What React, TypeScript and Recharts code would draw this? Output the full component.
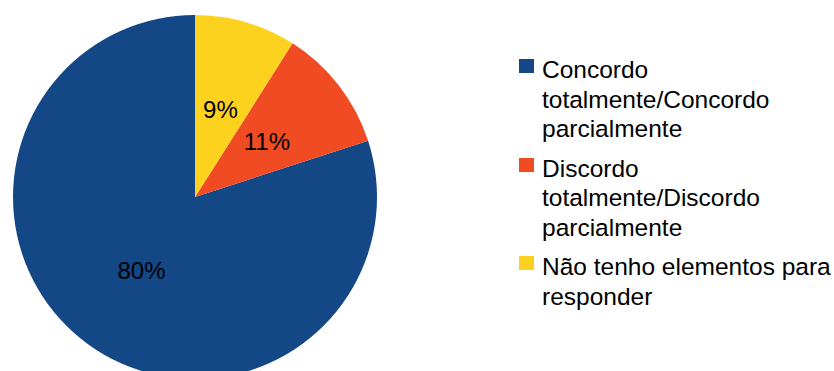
import React from "react";
import { PieChart, Pie, Cell, Legend } from "recharts";

const categories = [
  "Concordo totalmente/Concordo parcialmente",
  "Discordo totalmente/Discordo parcialmente",
  "Não tenho elementos para responder",
];
const values = [80, 11, 9];
const percentLabels = ["80%", "11%", "9%"];
const colors = ["#134785", "#F04B23", "#FDD21F"];

const data = categories.map((name, i) => ({ name, value: values[i], label: percentLabels[i] }));

const FONT = '"Liberation Sans", Arial, sans-serif';
const RAD = Math.PI / 180;

const renderLabel = (props: any) => {
  const { cx, cy, midAngle, outerRadius, index } = props;
  const r = outerRadius * 0.5;
  const x = cx + r * Math.cos(-midAngle * RAD);
  const y = cy + r * Math.sin(-midAngle * RAD);
  return (
    <text
      x={x}
      y={y}
      fill="#000"
      textAnchor="middle"
      dominantBaseline="central"
      style={{ fontFamily: FONT, fontSize: 24 }}
    >
      {percentLabels[index]}
    </text>
  );
};

const renderLegend = () => (
  <div style={{ fontFamily: FONT, fontSize: 24.5, lineHeight: "29.5px", color: "#000" }}>
    {categories.map((c, i) => (
      <div key={c} style={{ position: "relative", paddingLeft: 23, width: 292, marginBottom: 10 }}>
        <span
          style={{
            position: "absolute",
            left: 0,
            top: 4,
            width: 15,
            height: 14,
            background: colors[i],
          }}
        />
        {c}
      </div>
    ))}
  </div>
);

export default function App() {
  return (
    <div style={{ position: "absolute", left: 0, top: 0, width: 834, height: 371, background: "#fff" }}>
      <PieChart width={834} height={371} margin={{ top: 0, right: 0, bottom: 0, left: 0 }}>
        <Pie
          data={data}
          dataKey="value"
          nameKey="name"
          cx={195}
          cy={197}
          outerRadius={182}
          startAngle={90}
          endAngle={450}
          stroke="none"
          labelLine={false}
          label={renderLabel}
          isAnimationActive={false}
        >
          {data.map((d, i) => (
            <Cell key={d.name} fill={colors[i]} />
          ))}
        </Pie>
        <Legend
          content={renderLegend}
          layout="vertical"
          align="right"
          verticalAlign="top"
          wrapperStyle={{ left: 519, top: 55, right: "auto", bottom: "auto", width: 315 }}
        />
      </PieChart>
    </div>
  );
}
